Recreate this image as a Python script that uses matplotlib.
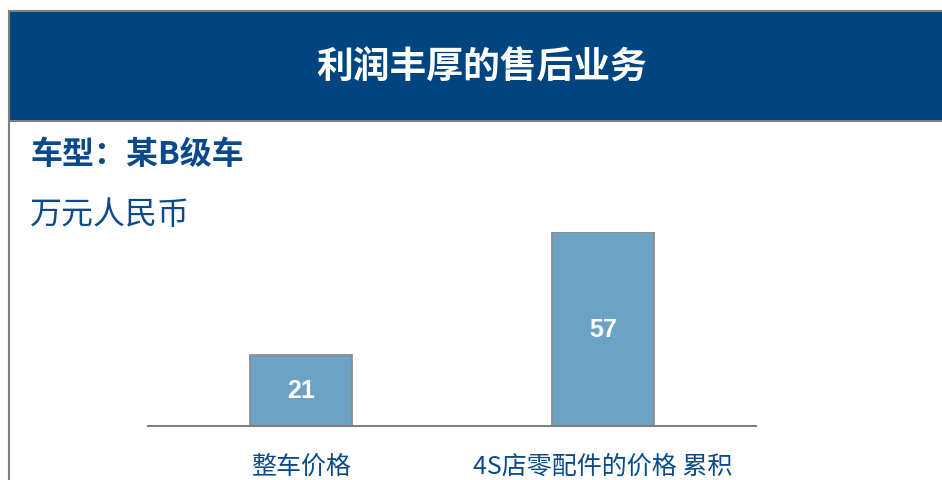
import matplotlib
matplotlib.use("Agg")
import matplotlib.pyplot as plt
from matplotlib.patches import Rectangle
from matplotlib.lines import Line2D

plt.rcParams['font.family'] = ['Noto Sans CJK SC', 'DejaVu Sans']

categories = ["整车价格", "4S店零配件的价格 累积"]
values = [21, 57]
title = "利润丰厚的售后业务"
subtitle = "车型：某B级车"
unit = "万元人民币"

W, H = 942, 481
navy = "#00457F"
text_blue = "#0B4A8A"
bar_color = "#6CA3C4"

fig = plt.figure(figsize=(W / 100, H / 100), dpi=100)

# header band + frame lines
fig.patches.append(Rectangle((9 / W, 1 - 122 / H), 1, 110 / H, transform=fig.transFigure,
                             facecolor=navy, edgecolor="none", zorder=0))
fig.add_artist(Line2D([9 / W, 1], [1 - 11.5 / H] * 2, transform=fig.transFigure, color="#808080", lw=1.5))
fig.add_artist(Line2D([9 / W, 1], [1 - 122 / H] * 2, transform=fig.transFigure, color="#808080", lw=1.5))
fig.add_artist(Line2D([9 / W] * 2, [0, 1 - 11.5 / H], transform=fig.transFigure, color="#808080", lw=1.5))

fig.text(482 / W, 1 - 68 / H, title, color="white", fontsize=26.5, fontweight="bold",
         ha="center", va="center")
fig.text(30 / W, 1 - 155 / H, subtitle, color=text_blue, fontsize=23, fontweight="bold",
         ha="left", va="center")
fig.text(30 / W, 1 - 215 / H, unit, color=text_blue, fontsize=23, ha="left", va="center")

ax = fig.add_axes([148 / W, 1 - 427 / H, (756 - 148) / W, (427 - 233) / H])
x = range(len(categories))
bars = ax.bar(x, values, width=0.34, color=bar_color, edgecolor="#8C8C8C", linewidth=1.3)
for b, v in zip(bars, values):
    ax.text(b.get_x() + b.get_width() / 2, v / 2, str(v), color="white", fontsize=18,
            fontweight="bold", family="Liberation Sans", ha="center", va="center")

ax.set_xlim(-0.507, 1.507)
ax.set_ylim(0, 57)
for s in ["top", "right", "left"]:
    ax.spines[s].set_visible(False)
ax.spines["bottom"].set_color("#808080")
ax.spines["bottom"].set_linewidth(1.5)
ax.set_yticks([])
ax.set_xticks(list(x))
ax.set_xticklabels(categories, fontsize=18, color=text_blue)
ax.tick_params(axis="x", length=0, pad=19)
ax.patch.set_alpha(0)

fig.savefig("out.png", dpi=100)
